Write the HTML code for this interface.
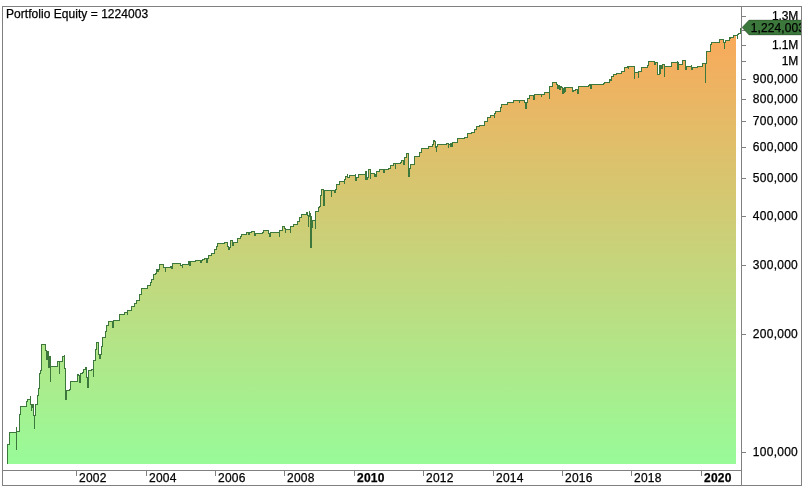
<!DOCTYPE html>
<html><head><meta charset="utf-8"><title>Portfolio Equity</title>
<style>html,body{margin:0;padding:0;background:#fff;}svg{display:block;}</style></head>
<body>
<svg width="811" height="497" viewBox="0 0 811 497">
<defs><linearGradient id="g" gradientUnits="userSpaceOnUse" x1="0" y1="464" x2="0" y2="7"><stop offset="0" stop-color="#98fb98"/><stop offset="1" stop-color="#ffa456"/></linearGradient><clipPath id="c"><rect x="742" y="7" width="59" height="463"/></clipPath></defs>
<rect width="811" height="497" fill="#fff"/>
<path d="M7.5,464 V444.5 H9.5 V432.5 H16.5 V426.5 V449.5 V431.5 H19.5 V414.5 H20.5 V406.5 H26.5 V401.5 H27.5 V399.5 H30.5 V395.5 V404.5 H31.5 V410.5 V404.5 H32.5 V407.5 V404.5 H33.5 V415.5 H34.5 V428.5 V415.5 H35.5 V404.5 H37.5 V395.5 H38.5 V388.5 H39.5 V373.5 H40.5 V370.5 H41.5 V344.5 H45.5 V350.5 H46.5 V359.5 H47.5 V351.5 H48.5 V367.5 H49.5 V356.5 H50.5 V381.5 V366.5 H57.5 V361.5 H59.5 V373.5 V361.5 H62.5 V356.5 H64.5 V354.5 V368.5 H65.5 V399.5 H66.5 V390.5 H69.5 V389.5 H70.5 V381.5 H77.5 V374.5 H78.5 V375.5 H79.5 V382.5 H80.5 V373.5 H82.5 V372.5 H83.5 V369.5 H85.5 V367.5 H86.5 V377.5 H87.5 V387.5 H88.5 V370.5 H91.5 V369.5 H93.5 V376.5 V360.5 H95.5 V349.5 H96.5 V342.5 H98.5 V354.5 H99.5 V358.5 H100.5 V354.5 H101.5 V346.5 H102.5 V337.5 H105.5 V331.5 H106.5 V325.5 H108.5 V321.5 H112.5 V320.5 V327.5 V321.5 H113.5 V327.5 V320.5 H119.5 V314.5 H124.5 V312.5 H127.5 V314.5 V310.5 H131.5 V306.5 H134.5 V303.5 H136.5 V300.5 H139.5 V294.5 H141.5 V288.5 H147.5 V285.5 H150.5 V282.5 H151.5 V279.5 H153.5 V274.5 H155.5 V273.5 H156.5 V269.5 H157.5 V271.5 H158.5 V269.5 H159.5 V264.5 H163.5 V267.5 H165.5 V271.5 V267.5 H170.5 V266.5 H171.5 V268.5 H172.5 V263.5 H180.5 V265.5 H182.5 V267.5 V264.5 H188.5 V261.5 H189.5 V265.5 H190.5 V261.5 H195.5 V260.5 H200.5 V262.5 H201.5 V260.5 H202.5 V259.5 H204.5 V258.5 H206.5 V262.5 H207.5 V258.5 H208.5 V255.5 H211.5 V253.5 H214.5 V249.5 H216.5 V246.5 H217.5 V243.5 H224.5 V242.5 H227.5 V246.5 H228.5 V249.5 H229.5 V247.5 H230.5 V240.5 H232.5 V245.5 H233.5 V242.5 H237.5 V238.5 H240.5 V236.5 H241.5 V234.5 H246.5 V232.5 H248.5 V234.5 V232.5 H249.5 V234.5 V232.5 H251.5 V231.5 H254.5 V235.5 H255.5 V233.5 H262.5 V232.5 H263.5 V230.5 H268.5 V233.5 H269.5 V236.5 H270.5 V232.5 H279.5 V236.5 V230.5 H282.5 V226.5 H284.5 V228.5 H285.5 V232.5 V229.5 H290.5 V232.5 V226.5 H293.5 V224.5 H297.5 V221.5 H299.5 V217.5 H301.5 V214.5 H306.5 V212.5 H307.5 V215.5 H308.5 V226.5 V216.5 H309.5 V210.5 V216.5 H310.5 V212.5 V247.5 V216.5 H311.5 V247.5 V227.5 H312.5 V220.5 H314.5 V220.5 H315.5 V228.5 V211.5 H318.5 V207.5 H319.5 V206.5 H320.5 V195.5 H321.5 V189.5 H323.5 V205.5 H324.5 V190.5 H331.5 V196.5 V190.5 H334.5 V192.5 H335.5 V189.5 H336.5 V184.5 H339.5 V181.5 H344.5 V183.5 V179.5 H345.5 V176.5 H347.5 V173.5 V177.5 H349.5 V175.5 H355.5 V173.5 V180.5 H356.5 V177.5 H358.5 V174.5 H365.5 V170.5 V179.5 H366.5 V170.5 V179.5 H367.5 V177.5 H368.5 V169.5 H370.5 V178.5 V173.5 H374.5 V176.5 H375.5 V173.5 V176.5 H376.5 V171.5 H379.5 V169.5 H383.5 V172.5 H384.5 V169.5 H388.5 V168.5 H390.5 V165.5 H393.5 V163.5 H395.5 V168.5 V163.5 H400.5 V162.5 H401.5 V160.5 H403.5 V164.5 H404.5 V157.5 H406.5 V153.5 H408.5 V176.5 V168.5 H409.5 V176.5 V168.5 H410.5 V164.5 H414.5 V156.5 H419.5 V152.5 H421.5 V148.5 H428.5 V146.5 H432.5 V144.5 H433.5 V140.5 H434.5 V141.5 H435.5 V147.5 H436.5 V151.5 V146.5 H437.5 V144.5 H446.5 V143.5 H448.5 V147.5 V144.5 H450.5 V146.5 V143.5 H451.5 V146.5 V143.5 H452.5 V146.5 V142.5 H457.5 V138.5 H464.5 V137.5 H467.5 V133.5 H471.5 V132.5 H474.5 V129.5 H476.5 V126.5 H479.5 V125.5 H484.5 V121.5 H487.5 V117.5 H490.5 V115.5 H494.5 V117.5 V113.5 H495.5 V111.5 H500.5 V107.5 H501.5 V104.5 H507.5 V102.5 H513.5 V100.5 H519.5 V102.5 V100.5 H524.5 V102.5 H525.5 V108.5 H526.5 V102.5 H527.5 V98.5 H529.5 V95.5 H533.5 V99.5 H534.5 V94.5 H541.5 V96.5 V94.5 H544.5 V92.5 H549.5 V98.5 V86.5 H552.5 V82.5 H556.5 V84.5 H557.5 V88.5 H558.5 V85.5 H559.5 V84.5 V89.5 H560.5 V86.5 H561.5 V87.5 H562.5 V93.5 H563.5 V87.5 V92.5 H564.5 V87.5 H565.5 V91.5 V87.5 H572.5 V91.5 H573.5 V90.5 H575.5 V89.5 H577.5 V93.5 H578.5 V86.5 H588.5 V85.5 H589.5 V84.5 H590.5 V88.5 H591.5 V84.5 H603.5 V83.5 H604.5 V82.5 H609.5 V79.5 H610.5 V80.5 H611.5 V76.5 H613.5 V74.5 H616.5 V73.5 H621.5 V71.5 H624.5 V67.5 H627.5 V66.5 H628.5 V65.5 V68.5 V66.5 H634.5 V78.5 V72.5 H638.5 V77.5 V71.5 H641.5 V67.5 H647.5 V65.5 H648.5 V61.5 H654.5 V64.5 H655.5 V62.5 H657.5 V74.5 H658.5 V74.5 H659.5 V64.5 V73.5 H660.5 V65.5 H661.5 V68.5 H662.5 V64.5 H664.5 V76.5 V66.5 H671.5 V62.5 H677.5 V60.5 V69.5 V62.5 H678.5 V69.5 V64.5 H682.5 V60.5 H685.5 V69.5 H686.5 V66.5 H691.5 V64.5 V69.5 H692.5 V67.5 H697.5 V66.5 H702.5 V63.5 H705.5 V82.5 V63.5 H706.5 V51.5 H710.5 V44.5 H711.5 V42.5 H719.5 V39.5 H723.5 V42.5 H724.5 V48.5 V42.5 H725.5 V40.5 H729.5 V36.5 V38.5 H730.5 V37.5 H733.5 V35.5 H736 V464 Z" fill="url(#g)" stroke="none"/>
<path d="M7.5,464 V444.5 H9.5 V432.5 H16.5 V426.5 V449.5 V431.5 H19.5 V414.5 H20.5 V406.5 H26.5 V401.5 H27.5 V399.5 H30.5 V395.5 V404.5 H31.5 V410.5 V404.5 H32.5 V407.5 V404.5 H33.5 V415.5 H34.5 V428.5 V415.5 H35.5 V404.5 H37.5 V395.5 H38.5 V388.5 H39.5 V373.5 H40.5 V370.5 H41.5 V344.5 H45.5 V350.5 H46.5 V359.5 H47.5 V351.5 H48.5 V367.5 H49.5 V356.5 H50.5 V381.5 V366.5 H57.5 V361.5 H59.5 V373.5 V361.5 H62.5 V356.5 H64.5 V354.5 V368.5 H65.5 V399.5 H66.5 V390.5 H69.5 V389.5 H70.5 V381.5 H77.5 V374.5 H78.5 V375.5 H79.5 V382.5 H80.5 V373.5 H82.5 V372.5 H83.5 V369.5 H85.5 V367.5 H86.5 V377.5 H87.5 V387.5 H88.5 V370.5 H91.5 V369.5 H93.5 V376.5 V360.5 H95.5 V349.5 H96.5 V342.5 H98.5 V354.5 H99.5 V358.5 H100.5 V354.5 H101.5 V346.5 H102.5 V337.5 H105.5 V331.5 H106.5 V325.5 H108.5 V321.5 H112.5 V320.5 V327.5 V321.5 H113.5 V327.5 V320.5 H119.5 V314.5 H124.5 V312.5 H127.5 V314.5 V310.5 H131.5 V306.5 H134.5 V303.5 H136.5 V300.5 H139.5 V294.5 H141.5 V288.5 H147.5 V285.5 H150.5 V282.5 H151.5 V279.5 H153.5 V274.5 H155.5 V273.5 H156.5 V269.5 H157.5 V271.5 H158.5 V269.5 H159.5 V264.5 H163.5 V267.5 H165.5 V271.5 V267.5 H170.5 V266.5 H171.5 V268.5 H172.5 V263.5 H180.5 V265.5 H182.5 V267.5 V264.5 H188.5 V261.5 H189.5 V265.5 H190.5 V261.5 H195.5 V260.5 H200.5 V262.5 H201.5 V260.5 H202.5 V259.5 H204.5 V258.5 H206.5 V262.5 H207.5 V258.5 H208.5 V255.5 H211.5 V253.5 H214.5 V249.5 H216.5 V246.5 H217.5 V243.5 H224.5 V242.5 H227.5 V246.5 H228.5 V249.5 H229.5 V247.5 H230.5 V240.5 H232.5 V245.5 H233.5 V242.5 H237.5 V238.5 H240.5 V236.5 H241.5 V234.5 H246.5 V232.5 H248.5 V234.5 V232.5 H249.5 V234.5 V232.5 H251.5 V231.5 H254.5 V235.5 H255.5 V233.5 H262.5 V232.5 H263.5 V230.5 H268.5 V233.5 H269.5 V236.5 H270.5 V232.5 H279.5 V236.5 V230.5 H282.5 V226.5 H284.5 V228.5 H285.5 V232.5 V229.5 H290.5 V232.5 V226.5 H293.5 V224.5 H297.5 V221.5 H299.5 V217.5 H301.5 V214.5 H306.5 V212.5 H307.5 V215.5 H308.5 V226.5 V216.5 H309.5 V210.5 V216.5 H310.5 V212.5 V247.5 V216.5 H311.5 V247.5 V227.5 H312.5 V220.5 H314.5 V220.5 H315.5 V228.5 V211.5 H318.5 V207.5 H319.5 V206.5 H320.5 V195.5 H321.5 V189.5 H323.5 V205.5 H324.5 V190.5 H331.5 V196.5 V190.5 H334.5 V192.5 H335.5 V189.5 H336.5 V184.5 H339.5 V181.5 H344.5 V183.5 V179.5 H345.5 V176.5 H347.5 V173.5 V177.5 H349.5 V175.5 H355.5 V173.5 V180.5 H356.5 V177.5 H358.5 V174.5 H365.5 V170.5 V179.5 H366.5 V170.5 V179.5 H367.5 V177.5 H368.5 V169.5 H370.5 V178.5 V173.5 H374.5 V176.5 H375.5 V173.5 V176.5 H376.5 V171.5 H379.5 V169.5 H383.5 V172.5 H384.5 V169.5 H388.5 V168.5 H390.5 V165.5 H393.5 V163.5 H395.5 V168.5 V163.5 H400.5 V162.5 H401.5 V160.5 H403.5 V164.5 H404.5 V157.5 H406.5 V153.5 H408.5 V176.5 V168.5 H409.5 V176.5 V168.5 H410.5 V164.5 H414.5 V156.5 H419.5 V152.5 H421.5 V148.5 H428.5 V146.5 H432.5 V144.5 H433.5 V140.5 H434.5 V141.5 H435.5 V147.5 H436.5 V151.5 V146.5 H437.5 V144.5 H446.5 V143.5 H448.5 V147.5 V144.5 H450.5 V146.5 V143.5 H451.5 V146.5 V143.5 H452.5 V146.5 V142.5 H457.5 V138.5 H464.5 V137.5 H467.5 V133.5 H471.5 V132.5 H474.5 V129.5 H476.5 V126.5 H479.5 V125.5 H484.5 V121.5 H487.5 V117.5 H490.5 V115.5 H494.5 V117.5 V113.5 H495.5 V111.5 H500.5 V107.5 H501.5 V104.5 H507.5 V102.5 H513.5 V100.5 H519.5 V102.5 V100.5 H524.5 V102.5 H525.5 V108.5 H526.5 V102.5 H527.5 V98.5 H529.5 V95.5 H533.5 V99.5 H534.5 V94.5 H541.5 V96.5 V94.5 H544.5 V92.5 H549.5 V98.5 V86.5 H552.5 V82.5 H556.5 V84.5 H557.5 V88.5 H558.5 V85.5 H559.5 V84.5 V89.5 H560.5 V86.5 H561.5 V87.5 H562.5 V93.5 H563.5 V87.5 V92.5 H564.5 V87.5 H565.5 V91.5 V87.5 H572.5 V91.5 H573.5 V90.5 H575.5 V89.5 H577.5 V93.5 H578.5 V86.5 H588.5 V85.5 H589.5 V84.5 H590.5 V88.5 H591.5 V84.5 H603.5 V83.5 H604.5 V82.5 H609.5 V79.5 H610.5 V80.5 H611.5 V76.5 H613.5 V74.5 H616.5 V73.5 H621.5 V71.5 H624.5 V67.5 H627.5 V66.5 H628.5 V65.5 V68.5 V66.5 H634.5 V78.5 V72.5 H638.5 V77.5 V71.5 H641.5 V67.5 H647.5 V65.5 H648.5 V61.5 H654.5 V64.5 H655.5 V62.5 H657.5 V74.5 H658.5 V74.5 H659.5 V64.5 V73.5 H660.5 V65.5 H661.5 V68.5 H662.5 V64.5 H664.5 V76.5 V66.5 H671.5 V62.5 H677.5 V60.5 V69.5 V62.5 H678.5 V69.5 V64.5 H682.5 V60.5 H685.5 V69.5 H686.5 V66.5 H691.5 V64.5 V69.5 H692.5 V67.5 H697.5 V66.5 H702.5 V63.5 H705.5 V82.5 V63.5 H706.5 V51.5 H710.5 V44.5 H711.5 V42.5 H719.5 V39.5 H723.5 V42.5 H724.5 V48.5 V42.5 H725.5 V40.5 H729.5 V36.5 V38.5 H730.5 V37.5 H733.5 V35.5 H736 H737.5 V38.5 V34.5 H738.5 V33.5 H740.5 V32.5 V27.5" fill="none" stroke="#3c783c" stroke-width="1" shape-rendering="crispEdges"/>
<g shape-rendering="crispEdges" stroke="#808080" stroke-width="1" fill="none">
<rect x="2.5" y="6.5" width="799" height="479"/>
<line x1="741.5" y1="7" x2="741.5" y2="485"/>
<line x1="3" y1="470.5" x2="741" y2="470.5"/>
<line x1="742" y1="16.5" x2="746" y2="16.5"/>
<line x1="742" y1="45.5" x2="746" y2="45.5"/>
<line x1="742" y1="61.5" x2="746" y2="61.5"/>
<line x1="742" y1="79.5" x2="746" y2="79.5"/>
<line x1="742" y1="99.5" x2="746" y2="99.5"/>
<line x1="742" y1="121.5" x2="746" y2="121.5"/>
<line x1="742" y1="147.5" x2="746" y2="147.5"/>
<line x1="742" y1="178.5" x2="746" y2="178.5"/>
<line x1="742" y1="216.5" x2="746" y2="216.5"/>
<line x1="742" y1="265.5" x2="746" y2="265.5"/>
<line x1="742" y1="334.5" x2="746" y2="334.5"/>
<line x1="742" y1="452.5" x2="746" y2="452.5"/>
<line x1="742" y1="30.5" x2="746" y2="30.5"/>
<line x1="76.5" y1="471" x2="76.5" y2="476"/>
<line x1="146.5" y1="471" x2="146.5" y2="476"/>
<line x1="215.5" y1="471" x2="215.5" y2="476"/>
<line x1="284.5" y1="471" x2="284.5" y2="476"/>
<line x1="354.5" y1="471" x2="354.5" y2="476"/>
<line x1="423.5" y1="471" x2="423.5" y2="476"/>
<line x1="493.5" y1="471" x2="493.5" y2="476"/>
<line x1="562.5" y1="471" x2="562.5" y2="476"/>
<line x1="631.5" y1="471" x2="631.5" y2="476"/>
<line x1="701.5" y1="471" x2="701.5" y2="476"/>
</g>
<g font-family="'Liberation Sans', Arial, sans-serif" font-size="12" fill="#000" stroke="#000" stroke-width="0.25" letter-spacing="0.25">
<text x="6" y="18" letter-spacing="0.04">Portfolio Equity = 1224003</text>
<text x="798" y="20" text-anchor="end" letter-spacing="-0.2">1.3M</text>
<text x="798" y="49" text-anchor="end" letter-spacing="-0.2">1.1M</text>
<text x="798" y="65" text-anchor="end" letter-spacing="-0.2">1M</text>
<text x="798" y="83" text-anchor="end">900,000</text>
<text x="798" y="103" text-anchor="end">800,000</text>
<text x="798" y="125" text-anchor="end">700,000</text>
<text x="798" y="151" text-anchor="end">600,000</text>
<text x="798" y="182" text-anchor="end">500,000</text>
<text x="798" y="220" text-anchor="end">400,000</text>
<text x="798" y="269" text-anchor="end">300,000</text>
<text x="798" y="338" text-anchor="end">200,000</text>
<text x="798" y="456" text-anchor="end">100,000</text>
<text x="79" y="482">2002</text>
<text x="149" y="482">2004</text>
<text x="218" y="482">2006</text>
<text x="287" y="482">2008</text>
<text x="357" y="482" font-weight="bold">2010</text>
<text x="426" y="482">2012</text>
<text x="496" y="482">2014</text>
<text x="565" y="482">2016</text>
<text x="634" y="482">2018</text>
<text x="704" y="482" font-weight="bold">2020</text>
<g clip-path="url(#c)"><polygon points="742,27.5 749,20 802,20 802,35 749,35" fill="#3c783c"/><text x="750.8" y="32" letter-spacing="0.08">1,224,003</text></g>
</g>
</svg>
</body></html>
